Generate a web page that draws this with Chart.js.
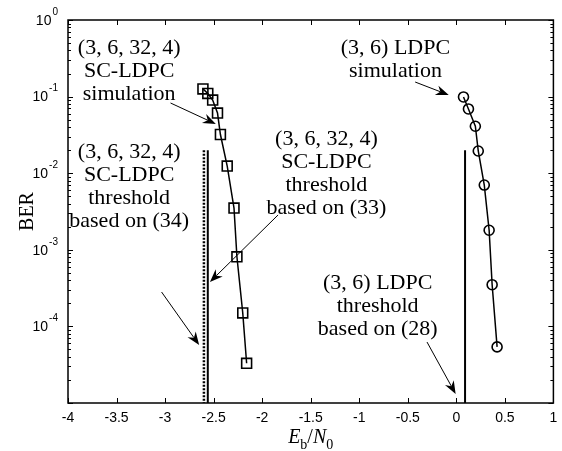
<!DOCTYPE html>
<html>
<head>
<meta charset="utf-8">
<script src="https://cdn.jsdelivr.net/npm/chart.js@4.4.0/dist/chart.umd.min.js"></script>
<style>
  html, body { margin: 0; padding: 0; background: #fff; }
  #wrap { width: 562px; height: 451px; }
</style>
</head>
<body>
<div id="wrap"><canvas id="myChart"></canvas></div>
<script>
// (3, 6, 32, 4) SC-LDPC simulation
const scEbN0 = [-2.61, -2.56, -2.51, -2.46, -2.43, -2.36, -2.29, -2.26, -2.20, -2.16];
const scBer  = [0.126, 0.11, 0.09, 0.061, 0.032, 0.0124, 0.0035, 0.00081, 0.00015, 0.000033];
// (3, 6) LDPC simulation
const ldpcEbN0 = [0.074, 0.125, 0.196, 0.226, 0.288, 0.338, 0.369, 0.42];
const ldpcBer  = [0.099, 0.069, 0.041, 0.0195, 0.0070, 0.0018, 0.00035, 0.000054];
// thresholds (vertical lines)
const thrSc34 = -2.60;   // dashed, based on (34)
const thrSc33 = -2.56;   // solid, based on (33)
const thrLdpc = 0.09;    // solid, based on (28)
const thrBer = [0.02, 0.00001];
// axis ticks
const xTicks = [-4, -3.5, -3, -2.5, -2, -1.5, -1, -0.5, 0, 0.5, 1];
const xTickLabels = ['-4', '-3.5', '-3', '-2.5', '-2', '-1.5', '-1', '-0.5', '0', '0.5', '1'];
const yExponents = [0, -1, -2, -3, -4, -5];
const yLabelExponents = ['0', '-1', '-2', '-3', '-4'];

// annotations: text lines placed at data coordinates (center of first line)
const notes = [
  { x: -3.37, y: 0.431, lines: ['(3, 6, 32, 4)', 'SC-LDPC', 'simulation'] },
  { x: -3.37, y: 0.0189, lines: ['(3, 6, 32, 4)', 'SC-LDPC', 'threshold', 'based on (34)'] },
  { x: -1.338, y: 0.028, lines: ['(3, 6, 32, 4)', 'SC-LDPC', 'threshold', 'based on (33)'] },
  { x: -0.627, y: 0.431, lines: ['(3, 6) LDPC', 'simulation'] },
  { x: -0.81, y: 0.000369, lines: ['(3, 6) LDPC', 'threshold', 'based on (28)'] }
];
// arrows: [x1, y1, x2, y2] in data coordinates, head at (x2, y2)
const arrows = [
  [-2.944, 0.0825, -2.477, 0.0439],
  [-1.836, 0.00285, -2.538, 0.00038],
  [-3.036, 0.000281, -2.649, 0.0000571],
  [-0.424, 0.155, -0.078, 0.105],
  [-0.302, 0.0000625, -0.007, 0.0000131]
];

function pts(xs, ys) { return xs.map((x, i) => ({ x: x, y: ys[i] })); }

const framePlugin = {
  id: 'frame',
  afterDraw(chart) {
    const ctx = chart.ctx;
    const xs = chart.scales.x, ys = chart.scales.y;
    const a = chart.chartArea;
    ctx.save();
    ctx.strokeStyle = '#000';
    ctx.fillStyle = '#000';
    // ticks, inward on all four sides
    ctx.lineWidth = 1;
    ctx.beginPath();
    xTicks.forEach(v => {
      const px = Math.round(xs.getPixelForValue(v)) + 0.5;
      ctx.moveTo(px, a.bottom); ctx.lineTo(px, a.bottom - 5);
      ctx.moveTo(px, a.top); ctx.lineTo(px, a.top + 5);
    });
    yExponents.forEach(e => {
      for (let m = 1; m <= 9; m++) {
        const v = m * Math.pow(10, e);
        if (v > 1.0001) continue;
        const py = Math.round(ys.getPixelForValue(v)) + 0.5;
        const len = m === 1 ? 5 : 3;
        ctx.moveTo(a.left, py); ctx.lineTo(a.left + len, py);
        ctx.moveTo(a.right, py); ctx.lineTo(a.right - len, py);
      }
    });
    ctx.stroke();
    ctx.lineWidth = 1.5;
    ctx.strokeRect(a.left, a.top, a.right - a.left, a.bottom - a.top);

    // x tick labels
    ctx.font = '14px "Liberation Sans", Arial, sans-serif';
    ctx.textAlign = 'center';
    ctx.textBaseline = 'middle';
    xTicks.forEach((v, i) => {
      ctx.fillText(xTickLabels[i], xs.getPixelForValue(v), a.bottom + 15);
    });
    // y tick labels 10^e
    yLabelExponents.forEach((e, i) => {
      const py = ys.getPixelForValue(Math.pow(10, -i));
      ctx.font = '10px "Liberation Sans", Arial, sans-serif';
      ctx.textAlign = 'right';
      ctx.textBaseline = 'middle';
      const ew = ctx.measureText(e).width;
      ctx.fillText(e, a.left - 10, py - 8);
      ctx.font = '14px "Liberation Sans", Arial, sans-serif';
      ctx.fillText('10', a.left - 10 - ew - 1, py + 1);
    });

    // axis titles
    ctx.font = '20px "Liberation Serif", "Times New Roman", serif';
    ctx.textAlign = 'center';
    ctx.save();
    ctx.translate(28, (a.top + a.bottom) / 2);
    ctx.rotate(-Math.PI / 2);
    ctx.fillText('BER', 0, 0);
    ctx.restore();
    const parts = [
      ['E', 'italic 20px "Liberation Serif", serif', 0],
      ['b', '14px "Liberation Serif", serif', 6],
      ['/', '20px "Liberation Serif", serif', 0],
      ['N', 'italic 20px "Liberation Serif", serif', 0],
      ['0', '14px "Liberation Serif", serif', 6]
    ];
    let tw = 0;
    parts.forEach(p => { ctx.font = p[1]; tw += ctx.measureText(p[0]).width; });
    let cx = (a.left + a.right) / 2 - tw / 2;
    ctx.textAlign = 'left';
    ctx.textBaseline = 'alphabetic';
    parts.forEach(p => {
      ctx.font = p[1];
      ctx.fillText(p[0], cx, 443 + p[2]);
      cx += ctx.measureText(p[0]).width;
    });

    // annotations
    ctx.font = '22px "Liberation Serif", "Times New Roman", serif';
    ctx.textAlign = 'center';
    ctx.textBaseline = 'middle';
    notes.forEach(n => {
      const px = xs.getPixelForValue(n.x), py = ys.getPixelForValue(n.y);
      n.lines.forEach((t, i) => ctx.fillText(t, px, py + i * 23));
    });
    // arrows
    ctx.lineWidth = 1;
    arrows.forEach(ar => {
      const x1 = xs.getPixelForValue(ar[0]), y1 = ys.getPixelForValue(ar[1]);
      const x2 = xs.getPixelForValue(ar[2]), y2 = ys.getPixelForValue(ar[3]);
      const ang = Math.atan2(y2 - y1, x2 - x1);
      const L = 13, W = 5;
      const bx = x2 - L * Math.cos(ang), by = y2 - L * Math.sin(ang);
      const nx = bx + 4 * Math.cos(ang), ny = by + 4 * Math.sin(ang);
      ctx.beginPath();
      ctx.moveTo(x1, y1);
      ctx.lineTo(nx, ny);
      ctx.stroke();
      ctx.beginPath();
      ctx.moveTo(x2, y2);
      ctx.lineTo(bx - W * Math.sin(ang), by + W * Math.cos(ang));
      ctx.lineTo(nx, ny);
      ctx.lineTo(bx + W * Math.sin(ang), by - W * Math.cos(ang));
      ctx.closePath();
      ctx.fill();
    });
    ctx.restore();
  }
};

const ctx = document.getElementById('myChart').getContext('2d');
const chart = new Chart(ctx, {
  type: 'line',
  data: {
    datasets: [
      {
        label: 'SC-LDPC simulation',
        data: pts(scEbN0, scBer),
        borderColor: '#000',
        borderWidth: 1.5,
        pointStyle: 'rect',
        pointRadius: 7,
        pointBorderWidth: 1.6,
        pointBorderColor: '#000',
        pointBackgroundColor: 'rgba(0,0,0,0)',
        tension: 0
      },
      {
        label: 'LDPC simulation',
        data: pts(ldpcEbN0, ldpcBer),
        borderColor: '#000',
        borderWidth: 1.5,
        pointStyle: 'circle',
        pointRadius: 5,
        pointBorderWidth: 1.6,
        pointBorderColor: '#000',
        pointBackgroundColor: 'rgba(0,0,0,0)',
        tension: 0
      },
      {
        label: 'threshold (34)',
        data: pts([thrSc34, thrSc34], thrBer),
        borderColor: '#000',
        borderWidth: 2.5,
        borderDash: [2, 1.5],
        pointRadius: 0
      },
      {
        label: 'threshold (33)',
        data: pts([thrSc33, thrSc33], thrBer),
        borderColor: '#000',
        borderWidth: 2,
        pointRadius: 0
      },
      {
        label: 'threshold (28)',
        data: pts([thrLdpc, thrLdpc], thrBer),
        borderColor: '#000',
        borderWidth: 2,
        pointRadius: 0
      }
    ]
  },
  options: {
    responsive: true,
    maintainAspectRatio: false,
    animation: false,
    devicePixelRatio: 1,
    layout: { padding: { left: 68, top: 20, right: 3, bottom: 48 } },
    scales: {
      x: {
        type: 'linear',
        min: -4,
        max: 1,
        ticks: { display: false },
        grid: { display: false, drawTicks: false },
        border: { display: false }
      },
      y: {
        type: 'logarithmic',
        min: 0.00001,
        max: 1,
        ticks: { display: false },
        grid: { display: false, drawTicks: false },
        border: { display: false }
      }
    },
    plugins: {
      legend: { display: false },
      tooltip: { enabled: false }
    }
  },
  plugins: [framePlugin]
});
</script>
</body>
</html>
